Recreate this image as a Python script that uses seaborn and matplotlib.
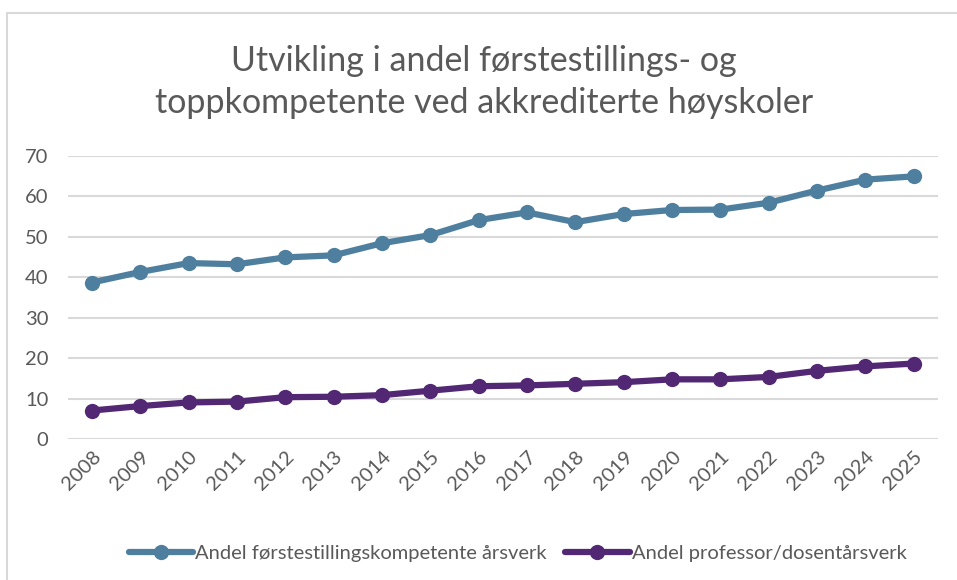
import matplotlib
matplotlib.use("Agg")
import matplotlib.pyplot as plt
import seaborn as sns
import pandas as pd
from matplotlib.patches import Rectangle

years = [str(y) for y in range(2008, 2026)]
forste = [38.7, 41.3, 43.5, 43.2, 44.9, 45.4, 48.4, 50.4, 54.1, 56.0,
          53.6, 55.6, 56.6, 56.7, 58.4, 61.4, 64.1, 64.9]
prof = [7.1, 8.2, 9.1, 9.3, 10.4, 10.5, 10.9, 12.0, 13.1, 13.3,
        13.7, 14.1, 14.8, 14.8, 15.4, 16.9, 18.0, 18.7]
series_names = ["Andel førstestillingskompetente årsverk",
                "Andel professor/dosentårsverk"]
title = "Utvikling i andel førstestillings- og\ntoppkompetente ved akkrediterte høyskoler"

df = pd.DataFrame({
    "Year": years * 2,
    "Value": forste + prof,
    "Serie": [series_names[0]] * len(years) + [series_names[1]] * len(years),
})

sns.set_theme(style="white")
plt.rcParams["font.family"] = ["Lato", "DejaVu Sans"]

fig = plt.figure(figsize=(9.57, 5.8), dpi=100)
ax = fig.add_axes([67.7 / 957, 1 - 439.3 / 580, (938 - 67.7) / 957, (439.3 - 155.7) / 580])

palette = {series_names[0]: "#4E7F9E", series_names[1]: "#522773"}
sns.lineplot(data=df, x="Year", y="Value", hue="Serie", palette=palette,
             marker="o", markersize=11, markeredgewidth=0, linewidth=4.5,
             ax=ax, sort=False)

ax.set_xlim(-0.5, len(years) - 0.5)
ax.set_ylim(0, 70)
ax.set_yticks(range(0, 71, 10))
ax.grid(axis="y", color="#D9D9D9", linewidth=1.5)
ax.set_axisbelow(True)
for s in ax.spines.values():
    s.set_visible(False)
ax.set_xlabel("")
ax.set_ylabel("")
ax.tick_params(axis="y", labelsize=14.5, labelcolor="#595959", pad=14, length=0)
ax.tick_params(axis="x", labelsize=14.5, labelcolor="#595959", length=0, pad=6)
for lbl in ax.get_xticklabels():
    lbl.set_rotation(45)
    lbl.set_ha("right")
    lbl.set_va("top")
    lbl.set_rotation_mode("anchor")

fig.text(0.506, 1 - 82 / 580, title, ha="center", va="center", fontsize=24.5,
         color="#595959", linespacing=1.35)

leg = ax.legend(loc="center", bbox_to_anchor=(0.517, 1 - (553 - 155.7) / (439.3 - 155.7)),
                bbox_transform=ax.transAxes, ncol=2, frameon=False,
                fontsize=14.5, handlelength=3.2, columnspacing=0.9, handletextpad=0.1)
for t in leg.get_texts():
    t.set_color("#595959")

fig.patches.append(Rectangle((7 / 957, -0.2), 2, 1.2 - 13 / 580, transform=fig.transFigure,
                             fill=False, edgecolor="#D9D9D9", linewidth=1.5))

fig.savefig("out.png", dpi=100)
